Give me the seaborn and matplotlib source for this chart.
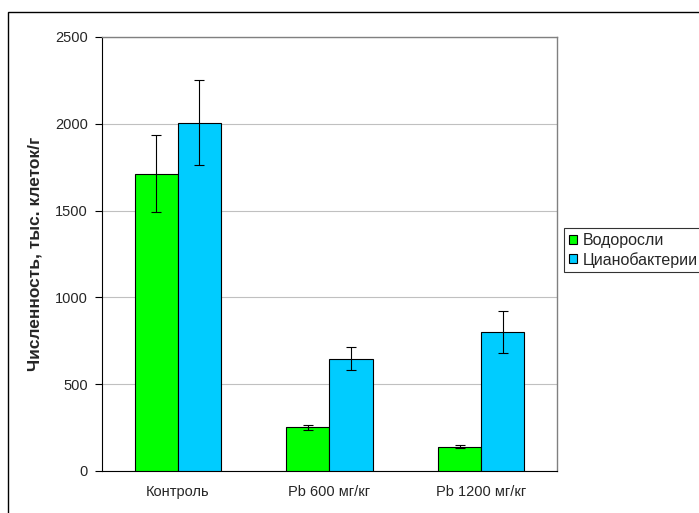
import numpy as np
import pandas as pd
import matplotlib
matplotlib.use("Agg")
import matplotlib.pyplot as plt
from matplotlib.patches import Rectangle, Patch
import seaborn as sns

categories = ["Контроль", "Pb 600 мг/кг", "Pb 1200 мг/кг"]
series = ["Водоросли", "Цианобактерии"]
algae = [1713, 251, 141]
algae_err = [223, 15, 10]
cyano = [2006, 647, 802]
cyano_err = [246, 65, 122]
yticks = [0, 500, 1000, 1500, 2000, 2500]
colors = ["#00FF00", "#00CCFF"]

df = pd.DataFrame({
    "cat": categories * 2,
    "series": [series[0]] * 3 + [series[1]] * 3,
    "val": algae + cyano,
})

sns.set_theme(style="white")
plt.rcParams["font.family"] = ["Liberation Sans", "DejaVu Sans"]

FS = 10.5
W, H = 699, 513
fig = plt.figure(figsize=(W / 100, H / 100), dpi=100)
ax = fig.add_axes([102 / W, 1 - 471 / H, (557 - 102) / W, (471 - 37) / H])

sns.barplot(data=df, x="cat", y="val", hue="series", palette=colors,
            width=0.5714, errorbar=None, edgecolor="black", linewidth=0.8,
            saturation=1, legend=False, ax=ax, zorder=3)

# error bars at the bar centres
errs = {series[0]: algae_err, series[1]: cyano_err}
vals = {series[0]: algae, series[1]: cyano}
for cont, s in zip(ax.containers, series):
    xs = [p.get_x() + p.get_width() / 2 for p in cont.patches]
    ax.errorbar(xs, vals[s], yerr=errs[s], fmt="none", ecolor="black",
                elinewidth=0.8, capsize=3.5, capthick=0.8, zorder=4)

ax.set_xlim(-0.5, 2.5)
ax.set_ylim(0, 2500)
ax.set_yticks(yticks)
ax.set_yticklabels([str(t) for t in yticks], fontsize=FS)
ax.yaxis.grid(True, color="#C0C0C0", linewidth=0.8, zorder=0)
ax.set_axisbelow(True)

ax.set_xticks(range(len(categories)))
ax.set_xticklabels(categories, fontsize=FS)
ax.set_xticks([-0.5, 0.5, 1.5, 2.5], minor=True)
ax.tick_params(axis="x", which="major", length=0, pad=10)
ax.tick_params(axis="x", which="minor", length=5, width=0.8, color="black", direction="out")
ax.tick_params(axis="y", length=5, width=0.8, color="black", direction="out", left=True, pad=5)
ax.set_xlabel("")
ax.set_ylabel("Численность, тыс. клеток/г", fontsize=12.5, fontweight="bold", labelpad=9)

for side in ["top", "right"]:
    ax.spines[side].set_color("#808080")
    ax.spines[side].set_linewidth(1.0)
for side in ["left", "bottom"]:
    ax.spines[side].set_color("black")
    ax.spines[side].set_linewidth(0.8)

handles = [Patch(facecolor=c, edgecolor="black", linewidth=0.8) for c in colors]
leg = fig.legend(handles, series, loc="upper left",
                 bbox_to_anchor=(564 / W, 1 - 228 / H), fontsize=11.5,
                 frameon=True, fancybox=False, handlelength=0.5, handleheight=0.5,
                 handletextpad=0.4, borderpad=0.3, labelspacing=0.25,
                 borderaxespad=0)
leg.get_frame().set_edgecolor("black")
leg.get_frame().set_linewidth(0.8)

# outer chart frame
fig.patches.append(Rectangle((8 / W, -0.1), 1.2, 1 - 12 / H + 0.1,
                             transform=fig.transFigure, fill=False,
                             edgecolor="black", linewidth=1.0))

fig.savefig("out.png", dpi=100)
